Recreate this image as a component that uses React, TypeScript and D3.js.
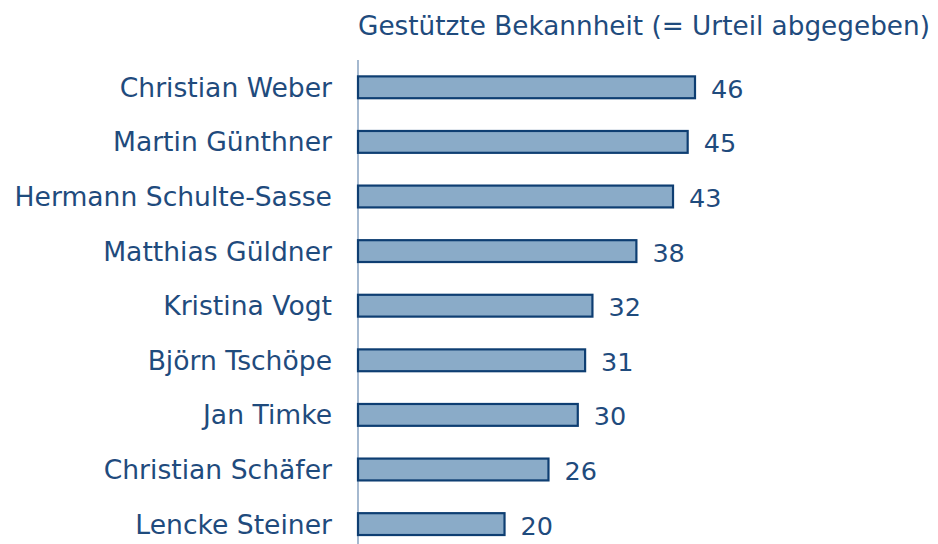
import React from "react";
import * as d3 from "d3";

const names = [
  "Christian Weber",
  "Martin Günthner",
  "Hermann Schulte-Sasse",
  "Matthias Güldner",
  "Kristina Vogt",
  "Björn Tschöpe",
  "Jan Timke",
  "Christian Schäfer",
  "Lencke Steiner",
];
const values = [46, 45, 43, 38, 32, 31, 30, 26, 20];
const title = "Gestützte Bekannheit (= Urteil abgegeben)";

const W = 938;
const H = 544;
const axisX = 358;
const textColor = "#1f4b7d";
const font = "Verdana, 'DejaVu Sans', sans-serif";

export default function App() {
  const x = d3.scaleLinear().domain([0, 46]).range([axisX, axisX + 337]);
  const y = d3
    .scaleBand<string>()
    .domain(names)
    .range([60, 60 + 9 * 54.6])
    .paddingInner(0.6)
    .paddingOuter(0.3);
  const bw = y.bandwidth();
  return (
    <svg
      width={W}
      height={H}
      style={{ position: "absolute", left: 0, top: 0, background: "#fff" }}
      fontFamily={font}
    >
      <text x={axisX} y={35} fontSize={26.3} fill={textColor}>
        {title}
      </text>
      <line x1={axisX} x2={axisX} y1={60} y2={H} stroke="#6a8ab0" strokeWidth={1.2} />
      {names.map((n, i) => {
        const yy = y(n)!;
        const v = values[i];
        return (
          <g key={n}>
            <rect
              x={x(0)}
              y={yy}
              width={x(v) - x(0)}
              height={bw}
              fill="#8aabc8"
              stroke="#0e3e72"
              strokeWidth={2.2}
            />
            <text
              x={axisX - 26}
              y={yy + bw / 2 + 9.5}
              textAnchor="end"
              fontSize={26.6}
              fill={textColor}
            >
              {n}
            </text>
            <text x={x(v) + 16} y={yy + bw / 2 + 10.5} fontSize={25.5} fill={textColor}>
              {v}
            </text>
          </g>
        );
      })}
    </svg>
  );
}
